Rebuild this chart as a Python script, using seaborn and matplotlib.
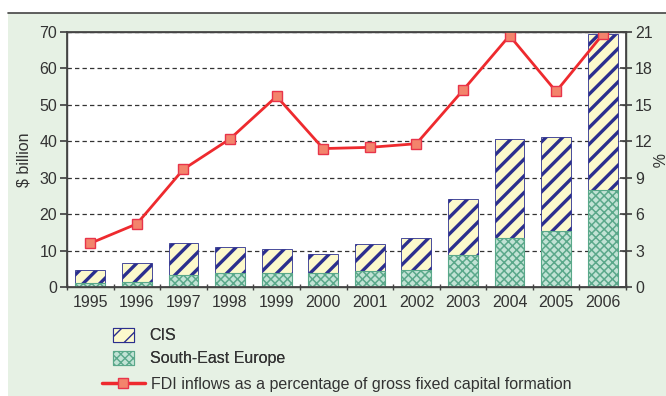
import numpy as np
import pandas as pd
import seaborn as sns
import matplotlib.pyplot as plt
from matplotlib.patches import Patch, Rectangle
from matplotlib.lines import Line2D

years = ["1995", "1996", "1997", "1998", "1999", "2000",
         "2001", "2002", "2003", "2004", "2005", "2006"]
see = [1.0, 1.5, 3.2, 3.9, 3.9, 3.9, 4.4, 4.7, 8.8, 13.5, 15.4, 26.6]
cis = [3.6, 5.0, 8.8, 7.0, 6.6, 5.1, 7.4, 8.7, 15.4, 27.0, 25.9, 42.8]
fdi_pct = [3.6, 5.2, 9.7, 12.2, 15.7, 11.4, 11.5, 11.8, 16.2, 20.7, 16.1, 20.8]

left_ticks = [0, 10, 20, 30, 40, 50, 60, 70]
right_ticks = [0, 3, 6, 9, 12, 15, 18, 21]

df = pd.DataFrame({"year": years, "see": see, "cis": cis, "pct": fdi_pct})
df["total"] = df["see"] + df["cis"]

sns.set_theme(style="white")
plt.rcParams["font.family"] = ["Liberation Sans", "DejaVu Sans"]

FS = 11.5
TXT = "#333333"
BG = "#e6f1e4"
NAVY = "#2b2f8e"
CREAM = "#fcf9cc"
TEAL = "#5aa88a"
MINT = "#c2e3d5"
RED = "#ee2a2e"

fig = plt.figure(figsize=(6.66, 3.96), dpi=100)
fig.patch.set_facecolor("white")
fig.add_artist(Rectangle((8 / 666, 0), 1, 1 - 13 / 396, transform=fig.transFigure,
                         facecolor=BG, edgecolor="none", zorder=-10))
fig.add_artist(Line2D([8 / 666, 1], [1 - 13 / 396] * 2, transform=fig.transFigure,
                      color="#444444", lw=1.2, zorder=-9))

ax = fig.add_axes([67 / 666, 1 - 287 / 396, (626 - 67) / 666, (287 - 32) / 396])
ax.set_facecolor("white")

# CIS stacked on top of South-East Europe
with plt.rc_context({"hatch.linewidth": 2.4}):
    sns.barplot(data=df, x="year", y="total", ax=ax, color=CREAM, saturation=1,
                width=0.64, edgecolor=NAVY, linewidth=0.6, hatch="//", zorder=2)
    cis_handle = Patch(facecolor=CREAM, edgecolor=NAVY, hatch="//", linewidth=0.8)
with plt.rc_context({"hatch.linewidth": 1.1}):
    sns.barplot(data=df, x="year", y="see", ax=ax, color=MINT, saturation=1,
                width=0.64, edgecolor=TEAL, linewidth=0.8, hatch="xxxx", zorder=3)
    see_handle = Patch(facecolor=MINT, edgecolor=TEAL, hatch="xxxx", linewidth=0.8)

ax.set_ylim(0, 70)
ax.set_xlim(-0.5, 11.5)
ax.set_yticks(left_ticks)
ax.set_axisbelow(True)
ax.grid(axis="y", color="#333333", linestyle=(0, (3.5, 2.5)), linewidth=0.9)
ax.grid(axis="x", visible=False)
ax.set_xlabel("")
ax.set_ylabel("$ billion", fontsize=FS, color=TXT, labelpad=6)
ax.set_xticks(np.arange(-0.5, 12, 1), minor=True)
ax.tick_params(axis="x", which="major", length=0, labelsize=FS, labelcolor=TXT, pad=6)
ax.tick_params(axis="x", which="minor", length=4, direction="inout", color="#444444", bottom=True)
ax.tick_params(axis="y", length=5, direction="out", color="#444444", labelsize=FS,
               labelcolor=TXT, left=True, pad=2)
for s in ax.spines.values():
    s.set_color("#444444")
    s.set_linewidth(1.0)

ax2 = ax.twinx()
sns.pointplot(data=df, x="year", y="pct", ax=ax2, color=RED, markers="s",
              linewidth=2, markersize=7)
for ln in ax2.lines:
    ln.set_markerfacecolor("#f3846c")
    ln.set_markeredgecolor("#e8344a")
    ln.set_markeredgewidth(1)
ax2.set_ylim(0, 21)
ax2.set_xlim(-0.5, 11.5)
ax2.set_yticks(right_ticks)
ax2.set_ylabel("")
ax2.tick_params(axis="y", length=9, direction="inout", color="#444444", labelsize=FS,
                labelcolor=TXT, right=True, pad=2)
ax2.grid(False)
for s in ax2.spines.values():
    s.set_color("#444444")
fig.text(656 / 666, 1 - 160 / 396, "%", rotation=270, fontsize=FS, color=TXT,
         ha="center", va="center")

leg1 = fig.legend([cis_handle, see_handle], ["CIS", "South-East Europe"], loc="upper left",
                  bbox_to_anchor=(108 / 666, 1 - 323 / 396), frameon=False,
                  fontsize=FS, handlelength=1.3, handleheight=1.0,
                  handletextpad=1.0, labelspacing=0.45, labelcolor=TXT,
                  borderaxespad=0, borderpad=0.3)
line_handle = Line2D([], [], color=RED, lw=2.5, marker="s", markersize=7,
                     markerfacecolor="#f3846c", markeredgecolor="#e8344a")
leg2 = fig.legend([line_handle], ["FDI inflows as a percentage of gross fixed capital formation"],
                  loc="upper left", bbox_to_anchor=(97 / 666, 1 - 372 / 396),
                  frameon=False, fontsize=FS, handlelength=2.7,
                  handletextpad=0.35, labelcolor=TXT, borderaxespad=0, borderpad=0.3)
fig.add_artist(leg1)

fig.savefig("out.png", dpi=100, facecolor=fig.get_facecolor())
